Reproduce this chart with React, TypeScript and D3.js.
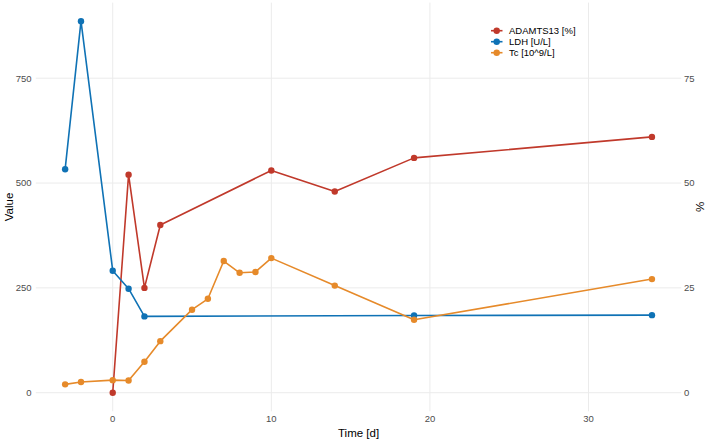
import React from "react";
import * as d3 from "d3";

const ldhDays = [-3, -2, 0, 1, 2, 19, 34];
const ldhValues = [533, 886, 291, 248, 182, 184, 185];

const adamtsDays = [0, 1, 2, 3, 10, 14, 19, 34];
const adamtsPercent = [0, 52, 25, 40, 53, 48, 56, 61];

const tcDays = [-3, -2, 0, 1, 2, 3, 5, 6, 7, 8, 9, 10, 14, 19, 34];
const tcValues = [20, 25.5, 30, 29, 74, 123, 198, 224, 314, 286, 288, 321, 255.5, 174, 271];

const xTicks = [0, 10, 20, 30];
const yTicks = [0, 250, 500, 750];
const y2Ticks = [0, 25, 50, 75];

const seriesNames = ["ADAMTS13 [%]", "LDH [U/L]", "Tc [10^9/L]"];
const seriesColors = ["#C0392B", "#0F72B5", "#E68A2A"];

const W = 708;
const H = 440;
const FONT = "'Liberation Sans', Arial, Helvetica, sans-serif";

export default function App() {
  const xMin = -3, xMax = 34;
  const xPad = (xMax - xMin) * 0.05;
  const x = d3.scaleLinear().domain([xMin - xPad, xMax + xPad]).range([35.8, 681.3]);
  const yMaxData = 886;
  const yPad = yMaxData * 0.05;
  const y = d3.scaleLinear().domain([-yPad, yMaxData + yPad]).range([411.3, 2.6]);
  const y2 = d3.scaleLinear().domain([-yPad / 10, (yMaxData + yPad) / 10]).range([411.3, 2.6]);

  const series = [
    { pts: adamtsDays.map((d, i) => [x(d), y2(adamtsPercent[i])] as [number, number]) },
    { pts: ldhDays.map((d, i) => [x(d), y(ldhValues[i])] as [number, number]) },
    { pts: tcDays.map((d, i) => [x(d), y(tcValues[i])] as [number, number]) },
  ];
  const line = d3.line<[number, number]>();
  const [x0, x1] = x.range();
  const [yb, yt] = y.range();

  return (
    <svg width={W} height={H} style={{ display: "block", position: "absolute", left: 0, top: 0 }} fontFamily={FONT}>
      <rect width={W} height={H} fill="#fff" />
      {yTicks.map((t) => (
        <line key={"gy" + t} x1={x0} x2={x1} y1={y(t)} y2={y(t)} stroke="#EBEBEB" strokeWidth={1} />
      ))}
      {xTicks.map((t) => (
        <line key={"gx" + t} x1={x(t)} x2={x(t)} y1={yb} y2={yt} stroke="#EBEBEB" strokeWidth={1} />
      ))}
      {yTicks.map((t) => (
        <text key={"ly" + t} x={31.5} y={y(t)} dy="0.35em" textAnchor="end" fontSize={9.5} fill="#4D4D4D">{t}</text>
      ))}
      {y2Ticks.map((t) => (
        <text key={"ry" + t} x={684} y={y2(t)} dy="0.35em" textAnchor="start" fontSize={9.5} fill="#4D4D4D">{t}</text>
      ))}
      {xTicks.map((t) => (
        <text key={"lx" + t} x={x(t)} y={421.5} textAnchor="middle" fontSize={9.5} fill="#4D4D4D">{t}</text>
      ))}
      <text x={(x0 + x1) / 2} y={437} textAnchor="middle" fontSize={11.5} fill="#000">Time [d]</text>
      <text transform={`translate(12.5,${(yb + yt) / 2}) rotate(-90)`} textAnchor="middle" fontSize={11.5} fill="#000">Value</text>
      <text transform={`translate(696,${(yb + yt) / 2}) rotate(90)`} textAnchor="middle" fontSize={11.5} fill="#000">%</text>
      {series.map((s, i) => (
        <g key={"s" + i}>
          <path d={line(s.pts) || ""} fill="none" stroke={seriesColors[i]} strokeWidth={1.6} strokeLinejoin="round" />
          {s.pts.map((p, j) => (
            <circle key={j} cx={p[0]} cy={p[1]} r={3.2} fill={seriesColors[i]} />
          ))}
        </g>
      ))}
      {seriesNames.map((n, i) => {
        const ly = 30.7 + i * 11;
        return (
          <g key={"lg" + i}>
            <line x1={491} x2={502.5} y1={ly} y2={ly} stroke={seriesColors[i]} strokeWidth={1.6} />
            <circle cx={496.7} cy={ly} r={3.2} fill={seriesColors[i]} />
            <text x={509} y={ly} dy="0.35em" fontSize={9.5} fill="#000">{n}</text>
          </g>
        );
      })}
    </svg>
  );
}
